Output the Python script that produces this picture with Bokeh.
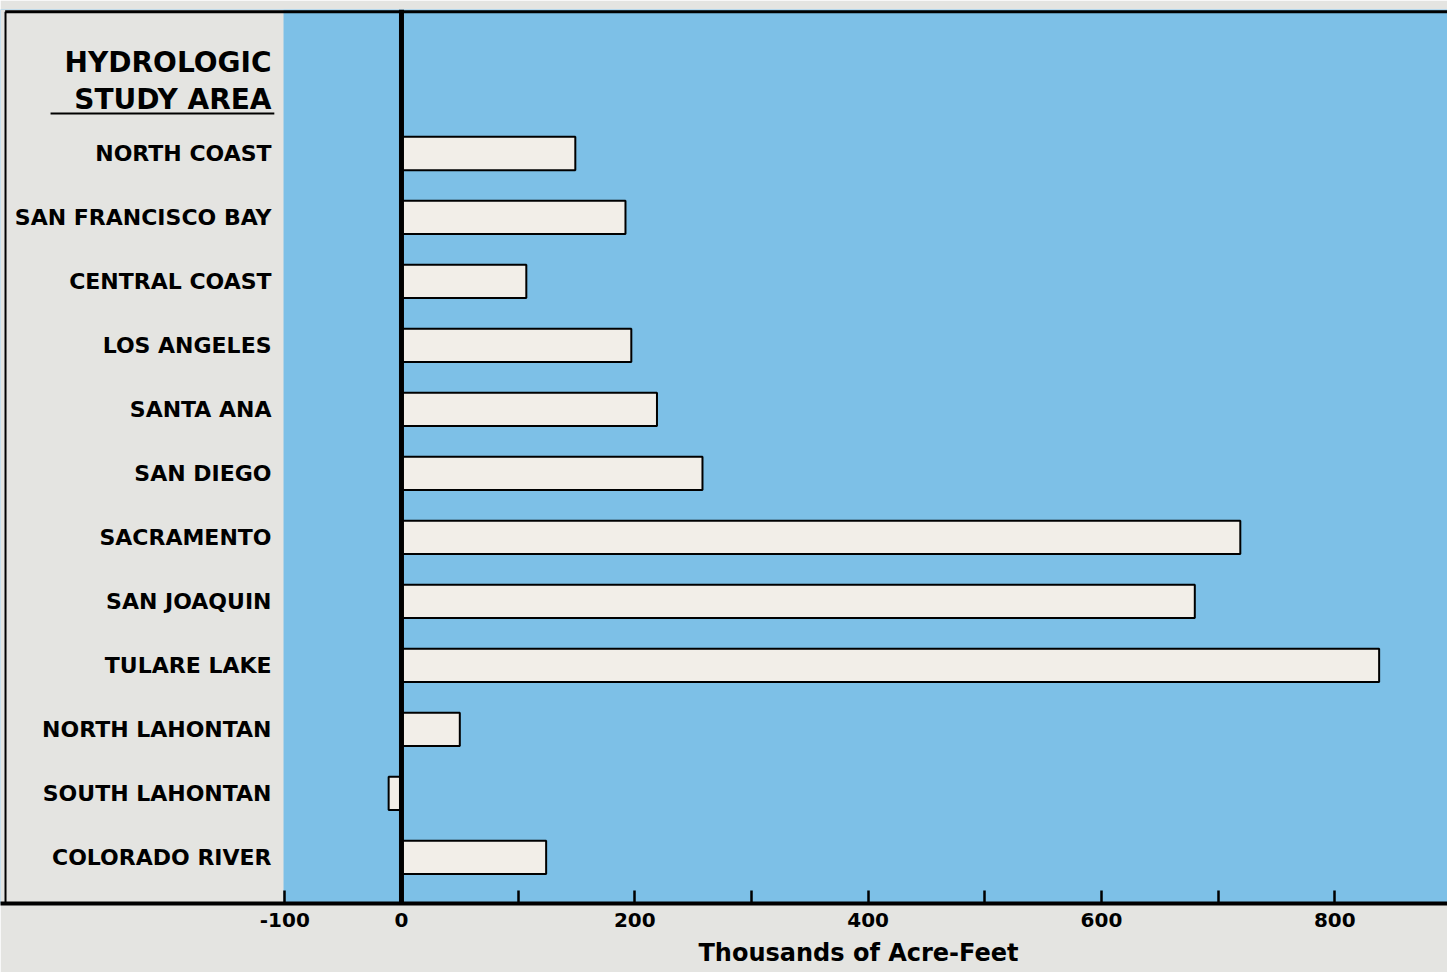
from bokeh.plotting import figure
from bokeh.models import Range1d, FixedTicker, Span, Title, ColumnDataSource
from bokeh.core.properties import value
from bokeh.embed import file_html
from bokeh.resources import INLINE

# ---- data ----
areas = ["NORTH COAST", "SAN FRANCISCO BAY", "CENTRAL COAST", "LOS ANGELES",
         "SANTA ANA", "SAN DIEGO", "SACRAMENTO", "SAN JOAQUIN", "TULARE LAKE",
         "NORTH LAHONTAN", "SOUTH LAHONTAN", "COLORADO RIVER"]
values = [149, 192, 107, 197, 219, 258, 719, 680, 838, 50, -11, 124]
tick_values = [-100, 0, 100, 200, 300, 400, 500, 600, 700, 800]
tick_labels = ["-100", "0", "", "200", "", "400", "", "600", "", "800"]
header = ["HYDROLOGIC", "STUDY AREA"]
x_title = "Thousands of Acre-Feet"

BLUE = "#7dc0e7"
GRAY = "#e4e4e1"
BAR = "#f2eee8"
FONT = "DejaVu Sans"

X0, X1 = -343.7, 896.6
Y_BOTTOM, Y_TOP = 11.72, -2.25
PANEL_EDGE = -101.1
LABEL_X = -111.4

idx = list(range(len(areas)))
src = ColumnDataSource(dict(y=idx, v=values, name=areas, zero=[0] * len(areas)))

p = figure(frame_width=1447, frame_height=894, output_backend="svg",
           toolbar_location=None, x_range=Range1d(X0, X1),
           y_range=Range1d(Y_BOTTOM, Y_TOP),
           min_border_left=0, min_border_right=0, min_border_top=9,
           min_border_bottom=0)
p.background_fill_color = BLUE
p.border_fill_color = GRAY
p.outline_line_color = None
p.grid.visible = False
p.yaxis.visible = False

# gray label panel inside the frame
p.quad(left=X0, right=PANEL_EDGE, bottom=Y_BOTTOM, top=Y_TOP,
       fill_color=GRAY, line_color=None)

# bars
p.hbar(y="y", left="zero", right="v", height=0.52, source=src,
       fill_color=BAR, line_color="black", line_width=2)

# zero line
p.add_layout(Span(location=0, dimension="height", line_color="black",
                  line_width=5))

# borders (top & left)
p.segment(x0=[X0 + 4.0], y0=[Y_TOP + 0.035], x1=[X1], y1=[Y_TOP + 0.035],
          line_color="black", line_width=3)
p.segment(x0=[X0 + 4.3], y0=[Y_TOP + 0.035], x1=[X0 + 4.3], y1=[Y_BOTTOM],
          line_color="black", line_width=2)

# category labels
p.text(x=LABEL_X, y="y", text="name", source=src, text_align="right",
       text_baseline="middle", text_font=value(FONT), text_font_style="bold",
       text_font_size="22px", text_color="black")

# header
p.text(x=[LABEL_X] * 2, y=[-1.42, -0.84], text=header,
       text_align="right", text_baseline="middle", text_font=value(FONT),
       text_font_style="bold", text_font_size="28px", text_color="black")
p.segment(x0=[-300.8], y0=[-0.625], x1=[-109.0], y1=[-0.625],
          line_color="black", line_width=2)

# x axis
ax = p.xaxis[0]
ax.ticker = FixedTicker(ticks=tick_values)
ax.major_label_overrides = {t: l for t, l in zip(tick_values, tick_labels)}
ax.axis_line_color = "black"
ax.axis_line_width = 4
ax.major_tick_in = 13
ax.major_tick_out = 0
ax.major_tick_line_width = 2.5
ax.major_tick_line_color = "black"
ax.minor_tick_line_color = None
ax.major_label_standoff = 9
ax.major_label_text_font = FONT
ax.major_label_text_font_style = "bold"
ax.major_label_text_font_size = "20px"
ax.major_label_text_color = "black"

p.add_layout(Title(text=x_title, align="left", offset=698,
                   text_font=FONT, text_font_style="bold",
                   text_font_size="24px", text_color="black",
                   standoff=14), "below")

html = file_html(p, INLINE)
html = html.replace("<body>", '<body style="background-color:%s;">' % GRAY, 1)
open("out.html", "w").write(html)
